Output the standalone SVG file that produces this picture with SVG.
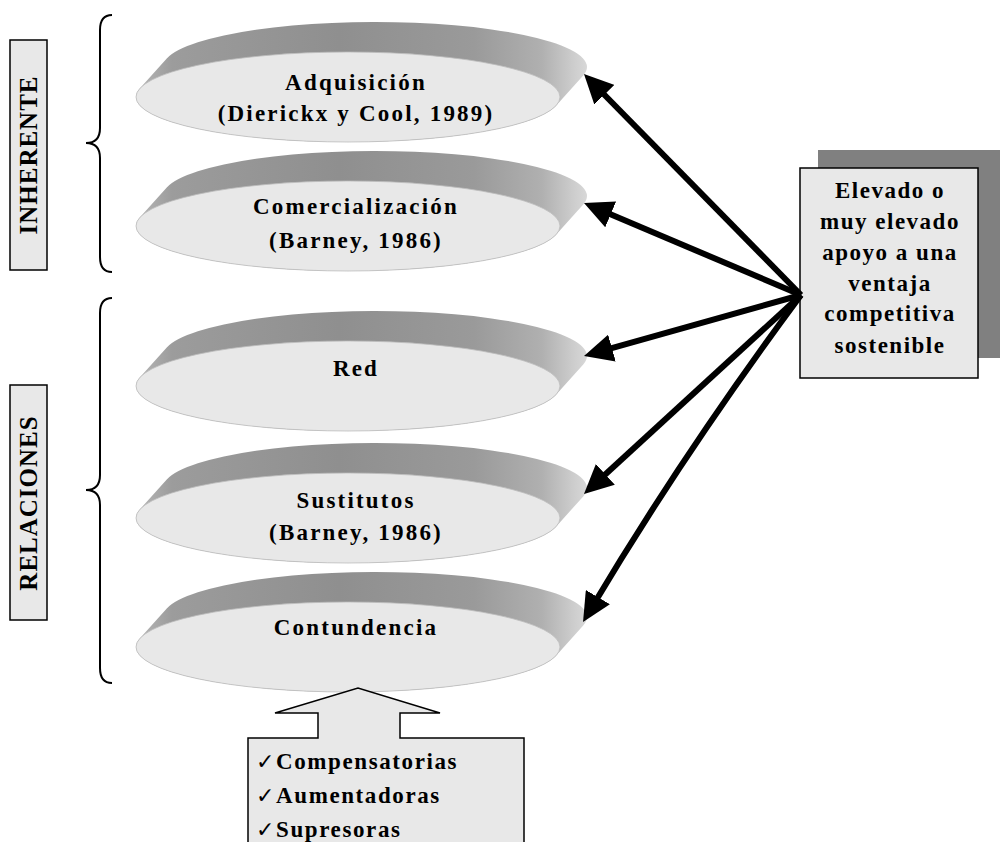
<svg xmlns="http://www.w3.org/2000/svg" xmlns:xlink="http://www.w3.org/1999/xlink" width="1003" height="842" viewBox="0 0 1003 842">
  <style>
    .lbl { font-family: "Liberation Serif", "Times New Roman", "DejaVu Serif", serif; font-weight: bold; fill: #000; }
    .disk-text { font-size: 23px; letter-spacing: 2.2px; text-anchor: middle; }
    .box-text { font-size: 23px; letter-spacing: 1.5px; text-anchor: middle; }
    .list-text { font-size: 23px; letter-spacing: 1.6px; }
    .tick { font-family: "DejaVu Sans", sans-serif; font-weight: normal; font-size: 22px; }
    .side-text { font-size: 25px; letter-spacing: 1px; text-anchor: middle; }
    .box { fill: #e8e8e8; stroke: #000; stroke-width: 1.5; }
    .brace { fill: none; stroke: #000; stroke-width: 2; }
    .conn { fill: none; stroke: #000; stroke-width: 6; marker-end: url(#head); }
  </style>
  <defs>
    <linearGradient id="band" x1="0" y1="0" x2="1" y2="0">
      <stop offset="0" stop-color="#b8b8b8"/>
      <stop offset="0.08" stop-color="#9c9c9c"/>
      <stop offset="0.45" stop-color="#8f8f8f"/>
      <stop offset="0.75" stop-color="#9a9a9a"/>
      <stop offset="0.9" stop-color="#b0b0b0"/>
      <stop offset="0.97" stop-color="#cdcdcd"/>
      <stop offset="1" stop-color="#d8d8d8"/>
    </linearGradient>
    <!-- extruded disk: grey side band behind a light front face, centred on the origin -->
    <g id="disk-shape">
      <path d="M-208.24,-8.44 L-181.24,-38.44 A212,45 0 0 1 235.24,-21.56 L208.24,8.44 A212,45 0 0 1 -208.24,-8.44 Z" fill="url(#band)"/>
      <ellipse cx="0" cy="0" rx="212" ry="45" fill="#e8e8e8" stroke="#bdbdbd" stroke-width="0.8"/>
    </g>
    <marker id="head" markerUnits="userSpaceOnUse" markerWidth="29" markerHeight="28" viewBox="0 0 29 28" refX="15" refY="14" orient="auto">
      <path d="M0,0 L29,14 L0,28 Z" fill="#000"/>
    </marker>
  </defs>

  <!-- group labels with braces -->
  <g id="inherente">
    <rect class="box" x="10" y="40" width="37" height="230"/>
    <text class="lbl side-text" transform="translate(37,155) rotate(-90)">INHERENTE</text>
    <path class="brace" d="M112,15 Q100,15 100,30 L100,128 Q100,143 86,143 Q100,143 100,158 L100,257 Q100,272 112,272"/>
  </g>
  <g id="relaciones">
    <rect class="box" x="10" y="385" width="37" height="235"/>
    <text class="lbl side-text" transform="translate(37,503) rotate(-90)">RELACIONES</text>
    <path class="brace" d="M112,298 Q100,298 100,313 L100,475 Q100,490 86,490 Q100,490 100,505 L100,668 Q100,683 112,683"/>
  </g>

  <!-- disks -->
  <g id="adquisicion">
    <use xlink:href="#disk-shape" href="#disk-shape" x="348" y="97"/>
    <text class="lbl disk-text" x="356" y="90">Adquisición</text>
    <text class="lbl disk-text" x="356" y="121">(Dierickx y Cool, 1989)</text>
  </g>
  <g id="comercializacion">
    <use xlink:href="#disk-shape" href="#disk-shape" x="348" y="226"/>
    <text class="lbl disk-text" x="356" y="214">Comercialización</text>
    <text class="lbl disk-text" x="356" y="248">(Barney, 1986)</text>
  </g>
  <g id="red">
    <use xlink:href="#disk-shape" href="#disk-shape" x="348" y="386"/>
    <text class="lbl disk-text" x="356" y="376">Red</text>
  </g>
  <g id="sustitutos">
    <use xlink:href="#disk-shape" href="#disk-shape" x="348" y="518"/>
    <text class="lbl disk-text" x="356" y="508">Sustitutos</text>
    <text class="lbl disk-text" x="356" y="540">(Barney, 1986)</text>
  </g>
  <g id="contundencia">
    <use xlink:href="#disk-shape" href="#disk-shape" x="348" y="647"/>
    <text class="lbl disk-text" x="356" y="635">Contundencia</text>
  </g>

  <!-- outcome box with offset shadow -->
  <g id="ventaja">
    <rect x="818" y="150" width="182" height="208" fill="#808080"/>
    <rect class="box" x="800" y="168" width="178" height="210"/>
    <text class="lbl box-text" x="890" y="198">Elevado o</text>
    <text class="lbl box-text" x="890" y="229">muy elevado</text>
    <text class="lbl box-text" x="890" y="260">apoyo a una</text>
    <text class="lbl box-text" x="890" y="291">ventaja</text>
    <text class="lbl box-text" x="890" y="321">competitiva</text>
    <text class="lbl box-text" x="890" y="353">sostenible</text>
  </g>

  <!-- moderators box with upward block arrow -->
  <g id="moderadores">
    <path class="box" d="M248,738 L318,738 L318,713 L275,713 L358,688 L440,713 L400,713 L400,738 L524,738 L524,860 L248,860 Z"/>
    <text class="lbl list-text" x="256" y="769"><tspan class="tick">✓</tspan>Compensatorias</text>
    <text class="lbl list-text" x="256" y="803"><tspan class="tick">✓</tspan>Aumentadoras</text>
    <text class="lbl list-text" x="256" y="837"><tspan class="tick">✓</tspan>Supresoras</text>
  </g>

  <!-- connectors -->
  <g id="connectors">
    <path class="conn" d="M801,295 L593.8,84"/>
    <path class="conn" d="M801,295 L596.9,208.5"/>
    <path class="conn" d="M801,295 L597.5,352.2"/>
    <path class="conn" d="M801,295 L594.3,484.5"/>
    <path class="conn" d="M801,295 Q683.7,453 590.2,610"/>
  </g>
</svg>
